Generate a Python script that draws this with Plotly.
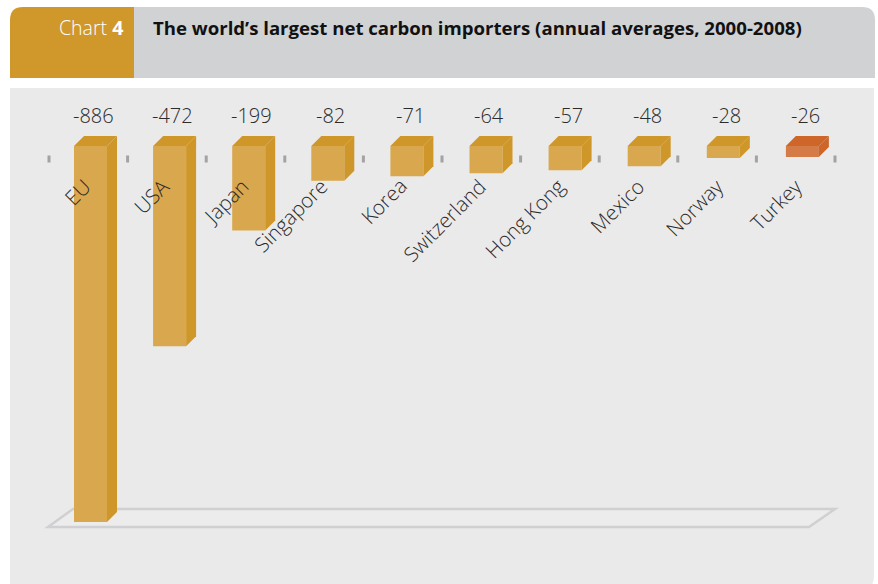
import plotly.graph_objects as go

# Net carbon imports, annual averages 2000-2008
countries = ["EU", "USA", "Japan", "Singapore", "Korea", "Switzerland",
             "Hong Kong", "Mexico", "Norway", "Turkey"]
net_imports = [-886, -472, -199, -82, -71, -64, -57, -48, -28, -26]
value_labels = [str(v) for v in net_imports]
highlight = "Turkey"

W, H = 878, 584

# pixel geometry of the plotting frame (figure has zero margins)
PX0, PXS = 90.5, 79.1      # pixel of category 0, pixels per category
Y0, SY = 146.0, 0.4244     # pixel of zero line, pixels per unit
FW = 33 / PXS              # front face width (axis units)
DX = 10 / PXS              # 3-D depth, horizontal
DY = 10 / SY               # 3-D depth, vertical

x_range = [-PX0 / PXS, (W - PX0) / PXS]
y_range = [-(H - Y0) / SY, Y0 / SY]


def px(x):
    return x / W


def py(y):
    return 1 - y / H


def val_at(ypix):
    return (Y0 - ypix) / SY


GOLD_FRONT, GOLD_DARK = "#D9A74E", "#CF9729"
RED_FRONT, RED_DARK = "#D47B48", "#CF6629"

front_cols = [RED_FRONT if c == highlight else GOLD_FRONT for c in countries]
dark_cols = [RED_DARK if c == highlight else GOLD_DARK for c in countries]
idx = list(range(len(countries)))

fig = go.Figure()

# top and side faces of each bar
for i, v in enumerate(net_imports):
    l, r = i - FW / 2, i + FW / 2
    fig.add_trace(go.Scatter(
        x=[l, l + DX, r + DX, r, l], y=[0, DY, DY, 0, 0],
        mode="lines", fill="toself", fillcolor=dark_cols[i],
        line=dict(width=0, color=dark_cols[i]), hoverinfo="skip", showlegend=False))
    fig.add_trace(go.Scatter(
        x=[r, r + DX, r + DX, r, r], y=[0, DY, v + DY, v, 0],
        mode="lines", fill="toself", fillcolor=dark_cols[i],
        line=dict(width=0, color=dark_cols[i]), hoverinfo="skip", showlegend=False))

# front faces
fig.add_trace(go.Bar(
    x=idx, y=net_imports, base=0, width=FW,
    marker=dict(color=front_cols, line=dict(width=0)),
    hoverinfo="skip", showlegend=False))

# small category separators
tick_step = 78.6 / PXS
tick_start = (49 - PX0) / PXS
ticks_x = [tick_start + k * tick_step for k in range(len(countries) + 1)]
fig.add_trace(go.Scatter(
    x=ticks_x, y=[val_at(159)] * len(ticks_x), mode="markers",
    marker=dict(symbol="line-ns", size=5, line=dict(width=3, color="#A3A3A3")),
    hoverinfo="skip", showlegend=False))

annotations = []
for i, (c, lab) in enumerate(zip(countries, value_labels)):
    annotations.append(dict(
        x=i + 0.04, y=val_at(115), xref="x", yref="y", text=lab,
        showarrow=False, xanchor="center", yanchor="middle",
        font=dict(family="Open Sans", size=20, color="#2B2B2B", weight=300)))
    annotations.append(dict(
        x=i + 0.09, y=val_at(171), xref="x", yref="y", text=c,
        showarrow=False, xanchor="right", yanchor="top", textangle=-45,
        borderpad=0,
        font=dict(family="Open Sans", size=20.5, color="#2B2B2B", weight=300)))

annotations.append(dict(
    x=px(125), y=py(27), xref="paper", yref="paper", text="Chart <b>4</b>",
    showarrow=False, xanchor="right", yanchor="middle",
    font=dict(family="Open Sans", size=19.5, color="#FFFFFF", weight=300)))
annotations.append(dict(
    x=px(151), y=py(27), xref="paper", yref="paper",
    text="<b>The world\u2019s largest net carbon importers (annual averages, 2000-2008)</b>",
    showarrow=False, xanchor="left", yanchor="middle",
    font=dict(family="Open Sans", size=18.6, color="#111111")))


def rpath(pts):
    return "M " + " L ".join(f"{px(a):.5f},{py(b):.5f}" for a, b in pts) + " Z"


def rounded(x0, y0, x1, y1, tl=0, tr=0, br=0, bl=0):
    s = f"M {px(x0 + tl):.5f},{py(y0):.5f} L {px(x1 - tr):.5f},{py(y0):.5f} "
    if tr:
        s += f"Q {px(x1):.5f},{py(y0):.5f} {px(x1):.5f},{py(y0 + tr):.5f} "
    s += f"L {px(x1):.5f},{py(y1 - br):.5f} "
    if br:
        s += f"Q {px(x1):.5f},{py(y1):.5f} {px(x1 - br):.5f},{py(y1):.5f} "
    s += f"L {px(x0 + bl):.5f},{py(y1):.5f} "
    if bl:
        s += f"Q {px(x0):.5f},{py(y1):.5f} {px(x0):.5f},{py(y1 - bl):.5f} "
    s += f"L {px(x0):.5f},{py(y0 + tl):.5f} "
    if tl:
        s += f"Q {px(x0):.5f},{py(y0):.5f} {px(x0 + tl):.5f},{py(y0):.5f} "
    return s + "Z"


shapes = [
    # header blocks
    dict(type="path", xref="paper", yref="paper", layer="below",
         path=rounded(10, 7, 134, 78, tl=13), fillcolor="#D0982B", line=dict(width=0)),
    dict(type="path", xref="paper", yref="paper", layer="below",
         path=rounded(134, 7, 875, 78, tr=13), fillcolor="#D1D2D4", line=dict(width=0)),
    # chart panel
    dict(type="path", xref="paper", yref="paper", layer="below",
         path=rounded(10, 88, 874, 590, br=14), fillcolor="#EAEAEA", line=dict(width=0)),
    # floor
    dict(type="path", xref="paper", yref="paper", layer="below",
         path=rpath([(48, 527), (809, 527), (835, 509), (73, 509)]),
         fillcolor="#ECECEC", line=dict(width=2.5, color="#D0D0D2")),
]

fig.update_layout(
    width=W, height=H, margin=dict(l=0, r=0, t=0, b=0),
    paper_bgcolor="#FFFFFF", plot_bgcolor="rgba(0,0,0,0)",
    xaxis=dict(range=x_range, visible=False, domain=[0, 1], fixedrange=True),
    yaxis=dict(range=y_range, visible=False, domain=[0, 1], fixedrange=True),
    barmode="overlay", showlegend=False,
    annotations=annotations, shapes=shapes,
)

fig.write_html("out.html")
